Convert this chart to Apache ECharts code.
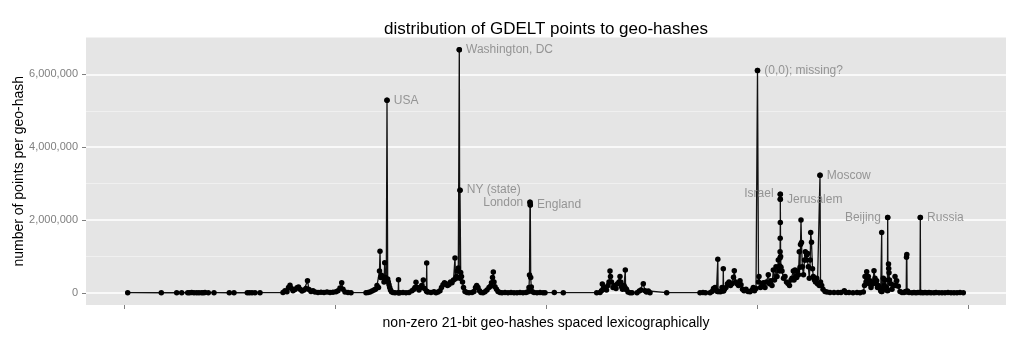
<!DOCTYPE html>
<html>
<head>
<meta charset="utf-8">
<script src="https://cdn.jsdelivr.net/npm/echarts@6/dist/echarts.min.js"></script>
<style>
html,body{margin:0;padding:0;background:#fff;}
#c{width:1024px;height:341px;}
</style>
</head>
<body>
<div id="c"></div>
<script>
// geo-hash rank (lexicographic position) of each non-zero geo-hash
const hashRank = [
  3.7, 37.3, 52.7, 57.7, 63.7, 65.5, 67.7, 70, 72.7, 75, 77.7, 79.5, 81, 84.3, 90, 105.3, 110, 123.3, 125.5, 128, 131, 136,
  159, 161, 163, 164.5, 166, 167.5, 169, 171, 173, 174.5, 176, 178, 180, 182, 183.5, 185, 187, 189, 191, 194, 197, 200, 203, 206, 209, 212, 214, 216, 217.7, 219, 221, 224, 227,
  242, 244, 246, 248, 250, 251.5, 253, 254.5, 255.5, 256, 256.7, 257.5, 259, 260, 260.7, 261.5, 262.3, 263, 263.7, 264.3, 265, 265.7, 266.5, 267.5, 269, 271, 274.2, 274.5, 274.8, 276, 279, 282, 285, 288, 290, 291, 292, 293.5, 295, 296.5, 297.7, 299.3, 300.5, 302.4, 302.7, 303, 304, 307, 310,
  312, 314, 316, 317.5, 319, 320.5, 322, 323.5, 325, 326.5, 328, 329.5, 331, 331.5, 332.5, 333.5, 334.3, 335.3, 335.8, 336, 336.7, 337.5, 338.5, 339.5, 341, 343, 345, 348, 350, 351.5, 352.7, 354, 355.5, 357, 359, 361, 363, 365, 366.5, 367.5, 368.5, 369.3, 370, 371, 372.5, 374, 376,
  378, 381, 384, 387, 390, 393, 396, 399, 402, 404, 405, 405.5, 406, 406.3, 406.7, 407.3, 408, 410, 413, 416, 419, 421, 430.3, 439.3,
  472.7, 476, 477.5, 478.3, 479.5, 481, 482.5, 484, 485, 486, 486.5, 487.5, 489, 490.5, 492, 493.5, 495, 496, 496.7, 497.5, 498.5, 500, 501, 501.3, 501.6, 502.5, 504, 506, 508, 513, 515.3, 517, 519.3, 521, 522.5, 524.3, 526, 542.7,
  576, 579, 581.5, 586, 588, 589.5, 591, 592.5, 593.5, 593.8, 594.1, 595, 596.5, 598, 599, 599.3, 599.6, 600.5, 602, 603.5, 605, 606.5, 608, 609.5, 610.3, 611.5, 613, 614.5, 616, 617, 618.5, 620, 622, 624, 626, 628, 629.3, 630.5, 632, 633.5,
  634.5, 635, 636.5, 638, 639.3, 641, 642.5, 644.3, 645.5, 647, 648, 649.3, 650.5, 652, 653, 654.3, 655.3, 655.8, 656, 656.1, 656.2, 656.3, 656.3, 656.3, 656.6, 657, 658, 659.5, 661, 662.5, 664, 665.5, 667, 668, 669.3, 670, 671, 672, 672.7, 673.5, 674.5, 675.3, 676, 676.5, 677, 677.5, 678.3, 679.5, 680.5, 681.3, 682, 682.7, 683.7, 684.3, 685.3, 686.2, 686.7, 687.5, 688.5, 689.3, 690.5, 691.5, 692.7, 693.5, 694.3, 695.3, 696, 696.5, 697.7, 699, 701, 703, 706, 710, 714, 717, 720.3, 722, 725, 729, 733, 736,
  739.3, 740.5, 741, 742, 742.7, 743.5, 744.3, 745, 746, 747, 747.7, 749, 750, 751, 752, 752.7, 753.5, 754.3, 755.5, 756.7, 757.4, 757.7, 758, 758.5, 759.3, 760.2, 761, 762.5, 763.4, 763.7, 764, 764.5, 764.7, 765, 765.5, 766.7, 768, 769.5, 771, 772, 772.7, 774.3, 776, 778, 780, 781.5, 782.2, 782.5, 782.8, 783.1, 783.5, 785, 788, 790, 792, 794, 796, 796.3, 796.6, 797.5, 799, 801, 803, 805, 807, 810, 812, 815, 818, 821, 824, 827, 830, 833, 836, 839.3
];
// number of GDELT points per geo-hash, in thousands
const pointsK = [
  5, 3, 4, 3, 5, 3, 6, 4, 3, 5, 4, 3, 6, 4, 5, 3, 4, 3, 5, 4, 3, 5,
  10, 60, 30, 150, 210, 120, 60, 90, 140, 160, 100, 50, 80, 120, 330, 90, 40, 60, 20, 10, 15, 8, 20, 10, 15, 30, 60, 130, 280, 100, 20, 10, 5,
  5, 10, 20, 50, 80, 100, 200, 150, 600, 1140, 420, 480, 430, 300, 830, 420, 350, 5290, 380, 300, 220, 150, 80, 30, 10, 5, 5, 360, 5, 5, 8, 5, 10, 60, 100, 150, 290, 150, 80, 150, 200, 350, 120, 50, 820, 30, 20, 10, 30,
  5, 20, 60, 150, 220, 280, 250, 200, 230, 300, 280, 350, 960, 390, 450, 600, 680, 6680, 400, 2820, 560, 450, 300, 150, 40, 10, 5, 8, 40, 150, 200, 150, 60, 10, 5, 30, 80, 150, 180, 280, 420, 570, 300, 170, 100, 40, 10,
  5, 8, 3, 6, 4, 5, 7, 4, 6, 30, 150, 490, 2490, 2410, 420, 160, 40, 8, 5, 6, 4, 5, 6, 4,
  5, 8, 60, 240, 100, 150, 80, 200, 300, 600, 450, 300, 150, 200, 120, 250, 300, 450, 300, 170, 100, 200, 150, 630, 100, 100, 20, 5, 3, 5, 50, 80, 250, 60, 20, 50, 5, 5,
  5, 8, 5, 5, 40, 120, 150, 60, 40, 920, 40, 40, 30, 150, 60, 660, 50, 100, 150, 250, 300, 200, 250, 430, 610, 300, 250, 200, 330, 220, 100, 60, 100, 40, 30, 80, 150, 60, 120, 6110,
  300, 450, 150, 200, 280, 150, 300, 500, 250, 330, 200, 630, 350, 720, 450, 900, 600, 740, 960, 1130, 1500, 1930, 2570, 2710, 1000, 700, 600, 400, 450, 300, 260, 200, 350, 400, 600, 350, 630, 450, 420, 600, 500, 1130, 700, 1330, 2000, 1380, 720, 500, 900, 1130, 900, 1040, 1080, 720, 400, 900, 1660, 1390, 660, 450, 350, 300, 400, 250, 250, 200, 3230, 300, 200, 100, 40, 20, 10, 8, 6, 10, 60, 10, 8, 5, 7, 4,
  20, 200, 450, 300, 580, 350, 450, 250, 330, 150, 230, 300, 610, 400, 250, 330, 150, 200, 130, 60, 40, 1660, 40, 80, 400, 200, 350, 150, 60, 2070, 70, 790, 670, 550, 350, 250, 100, 200, 450, 200, 330, 180, 40, 10, 8, 40, 30, 980, 1050, 30, 50, 10, 5, 8, 5, 10, 8, 2070, 8, 10, 5, 8, 4, 6, 5, 3, 6, 4, 5, 3, 6, 4, 5, 3, 6, 4
];
// annotated geo-hashes
const labelNames = ['USA', 'Washington, DC', 'NY (state)', 'London', 'England', '(0,0); missing?', 'Israel', 'Jerusalem', 'Moscow', 'Beijing', 'Russia'];
const labelRank = [263, 335.3, 336, 406, 406.3, 633.5, 656.3, 656.3, 696, 763.7, 796.3];
const labelK = [5290, 6680, 2820, 2490, 2410, 6110, 2710, 2570, 3230, 2070, 2070];
const labelSide = ['right', 'right', 'right', 'left', 'right', 'right', 'left', 'right', 'right', 'left', 'right'];
// axis breaks
const xTicks = [0, 211, 422, 633, 844];
const yTicks = [0, 2000000, 4000000, 6000000];
const yMinor = [1000000, 3000000, 5000000];

const FONT = '"Liberation Sans", Arial, Helvetica, sans-serif';
const fmt = v => String(Math.round(v)).replace(/\B(?=(\d{3})+(?!\d))/g, ',');

const lineData = hashRank.map((x, i) => [x, pointsK[i] * 1000]);
const labelData = labelNames.map((n, i) => ({
  name: n,
  value: [labelRank[i], labelK[i] * 1000],
  label: { position: labelSide[i] }
}));

const chart = echarts.init(document.getElementById('c'), null, { renderer: 'canvas' });
chart.setOption({
  animation: false,
  backgroundColor: '#ffffff',
  textStyle: { fontFamily: FONT },
  title: {
    text: 'distribution of GDELT points to geo-hashes',
    left: 546,
    textAlign: 'center',
    top: 21,
    padding: 0,
    textStyle: { fontSize: 17, fontWeight: 'normal', color: '#000', fontFamily: FONT }
  },
  grid: {
    left: 86, right: 18, top: 37.5, bottom: 36,
    outerBoundsMode: 'none',
    containLabel: false,
    show: true, backgroundColor: '#E5E5E5', borderWidth: 0
  },
  xAxis: {
    type: 'value',
    min: -38, max: 882,
    name: 'non-zero 21-bit geo-hashes spaced lexicographically',
    nameLocation: 'middle',
    nameGap: 11,
    nameMoveOverlap: false,
    nameTextStyle: { fontSize: 14, color: '#000', fontFamily: FONT },
    axisLine: { show: false, onZero: false },
    axisTick: { show: true, customValues: xTicks, length: 4, inside: false, lineStyle: { color: '#7f7f7f', width: 1 } },
    axisLabel: { show: false, customValues: xTicks },
    splitLine: { show: false }
  },
  yAxis: [{
    type: 'value',
    min: -334000, max: 7014000,
    name: 'number of points per geo-hash',
    nameLocation: 'middle',
    nameGap: 60,
    nameMoveOverlap: false,
    nameTextStyle: { fontSize: 14, color: '#000', fontFamily: FONT },
    axisLine: { show: false, onZero: false },
    axisTick: { show: true, customValues: yTicks, length: 4, inside: false, lineStyle: { color: '#7f7f7f', width: 1 } },
    axisLabel: { show: true, customValues: yTicks, formatter: fmt, color: '#7f7f7f', fontSize: 11, margin: 8, fontFamily: FONT },
    splitLine: { show: true, lineStyle: { color: '#ffffff', width: 1.5 } }
  }, {
    type: 'value',
    position: 'left',
    min: -334000, max: 7014000,
    axisLine: { show: false, onZero: false },
    axisTick: { show: false, customValues: yMinor },
    axisLabel: { show: false, customValues: yMinor },
    splitLine: { show: true, lineStyle: { color: '#F2F2F2', width: 0.8 } }
  }],
  series: [{
    type: 'line',
    data: lineData,
    yAxisIndex: 0,
    symbol: 'circle',
    symbolSize: 5.5,
    showSymbol: true,
    showAllSymbol: true,
    itemStyle: { color: '#000' },
    lineStyle: { color: '#111', width: 1.3 },
    emphasis: { disabled: true },
    silent: true,
    z: 3
  }, {
    type: 'scatter',
    data: labelData,
    yAxisIndex: 0,
    symbol: 'circle',
    symbolSize: 5.5,
    itemStyle: { color: '#000' },
    label: {
      show: true,
      formatter: p => p.name,
      color: '#7f7f7f',
      fontSize: 12,
      distance: 4,
      fontFamily: FONT
    },
    emphasis: { disabled: true },
    silent: true,
    z: 4
  }]
});
</script>
</body>
</html>
